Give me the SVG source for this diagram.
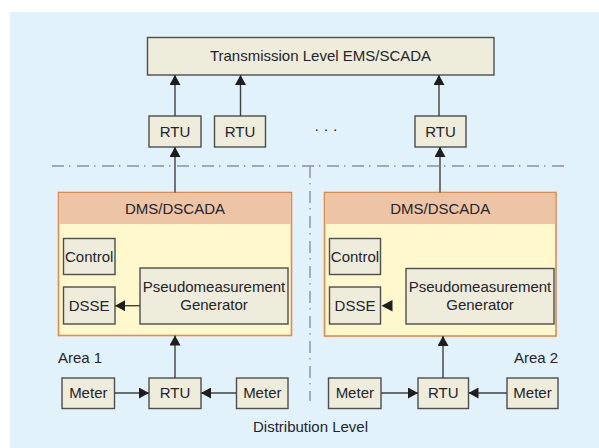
<svg xmlns="http://www.w3.org/2000/svg" width="599" height="448" viewBox="0 0 599 448">
  <defs>
    <style>
      .box { fill: #eeecda; stroke: #4e4e4e; stroke-width: 1.4; }
      .dms-body { fill: #fff8cc; stroke: #e38a4c; stroke-width: 1.6; }
      .dms-head { fill: #edc5a5; }
      .lbl { font-family: "Liberation Sans", Arial, sans-serif; font-size: 15px; fill: #24242f; }
      .mid { text-anchor: middle; }
      .conn { stroke: #404040; stroke-width: 1.4; fill: none; marker-end: url(#arrow); }
      .head { fill: #1e1e1e; stroke: none; }
      .divider { stroke: #8d949a; stroke-width: 1.4; fill: none; stroke-dasharray: 12 5 1.5 6.5; }
    </style>
    <marker id="arrow" markerUnits="userSpaceOnUse" markerWidth="11" markerHeight="11" refX="10" refY="5.5" orient="auto">
      <path d="M0,0 L10,5.5 L0,11 z" fill="#1e1e1e"/>
    </marker>
  </defs>

  <!-- background panel -->
  <rect x="10" y="12" width="589" height="436" fill="#e1f2fb"/>

  <!-- area dividers -->
  <g id="dividers">
    <path class="divider" d="M52,166 H569"/>
    <path class="divider" d="M310,166 V401"/>
  </g>

  <!-- transmission level -->
  <g id="ems">
    <rect class="box" x="147.5" y="37.5" width="346.5" height="37.5"/>
    <text class="lbl mid" x="320.5" y="61">Transmission Level EMS/SCADA</text>
  </g>
  <g id="rtu-t1">
    <rect class="box" x="149" y="116" width="52" height="31"/>
    <text class="lbl mid" x="175" y="137">RTU</text>
  </g>
  <g id="rtu-t2">
    <rect class="box" x="214.5" y="116" width="51" height="31"/>
    <text class="lbl mid" x="240" y="137">RTU</text>
  </g>
  <g id="ellipsis">
    <text class="lbl mid" x="326" y="134">· · ·</text>
  </g>
  <g id="rtu-t3">
    <rect class="box" x="415" y="116" width="51" height="31"/>
    <text class="lbl mid" x="440.5" y="137">RTU</text>
  </g>

  <!-- area 1 -->
  <g id="dms1">
    <rect class="dms-body" x="58.5" y="192.5" width="233" height="143"/>
    <rect class="dms-head" x="59.3" y="193.3" width="231.4" height="30.7"/>
    <text class="lbl mid" x="175" y="214">DMS/DSCADA</text>
  </g>
  <g id="control1">
    <rect class="box" x="63.5" y="238.5" width="51.5" height="36"/>
    <text class="lbl mid" x="89.2" y="261.5">Control</text>
  </g>
  <g id="dsse1">
    <rect class="box" x="63.5" y="287" width="51.5" height="37"/>
    <text class="lbl mid" x="89.2" y="310.5">DSSE</text>
  </g>
  <g id="pseudo1">
    <rect class="box" x="140" y="268" width="148" height="56"/>
    <text class="lbl mid" x="214" y="292">Pseudomeasurement</text>
    <text class="lbl mid" x="214" y="309.5">Generator</text>
  </g>
  <g id="area1-label">
    <text class="lbl" x="58" y="363">Area 1</text>
  </g>
  <g id="meter1">
    <rect class="box" x="62" y="378" width="52.5" height="30.5"/>
    <text class="lbl mid" x="88.3" y="398">Meter</text>
  </g>
  <g id="rtu-d1">
    <rect class="box" x="149" y="378" width="52" height="30.5"/>
    <text class="lbl mid" x="175" y="398">RTU</text>
  </g>
  <g id="meter2">
    <rect class="box" x="236.5" y="378" width="51.5" height="30.5"/>
    <text class="lbl mid" x="262.3" y="398">Meter</text>
  </g>

  <!-- area 2 -->
  <g id="dms2">
    <rect class="dms-body" x="324.5" y="192.5" width="231.5" height="143.5"/>
    <rect class="dms-head" x="325.3" y="193.3" width="229.9" height="30.7"/>
    <text class="lbl mid" x="440.2" y="214">DMS/DSCADA</text>
  </g>
  <g id="control2">
    <rect class="box" x="329.5" y="238.5" width="51" height="36"/>
    <text class="lbl mid" x="355" y="261.5">Control</text>
  </g>
  <g id="dsse2">
    <rect class="box" x="329.5" y="287" width="51" height="37"/>
    <text class="lbl mid" x="355" y="310.5">DSSE</text>
  </g>
  <g id="pseudo2">
    <rect class="box" x="406" y="268.5" width="148" height="55.5"/>
    <text class="lbl mid" x="480" y="292">Pseudomeasurement</text>
    <text class="lbl mid" x="480" y="309.5">Generator</text>
  </g>
  <g id="area2-label">
    <text class="lbl" x="514" y="363">Area 2</text>
  </g>
  <g id="meter3">
    <rect class="box" x="328.5" y="378" width="52.5" height="30.5"/>
    <text class="lbl mid" x="354.8" y="398">Meter</text>
  </g>
  <g id="rtu-d2">
    <rect class="box" x="418" y="378" width="50.5" height="30.5"/>
    <text class="lbl mid" x="443.2" y="398">RTU</text>
  </g>
  <g id="meter4">
    <rect class="box" x="507" y="378" width="51" height="30.5"/>
    <text class="lbl mid" x="532.5" y="398">Meter</text>
  </g>

  <g id="level-label">
    <text class="lbl mid" x="310.5" y="432">Distribution Level</text>
  </g>

  <!-- connectors -->
  <g id="connectors">
    <path class="conn" d="M175,116 V75"/>
    <path class="conn" d="M240.5,116 V75"/>
    <path class="conn" d="M439,116 V75"/>
    <path class="conn" d="M175,192.5 V147"/>
    <path class="conn" d="M440,192.5 V147"/>
    <path class="conn" d="M140,305.7 H115"/>
    <!-- area 2: the head alone, with no shaft -->
    <path class="head" d="M381.5,305.7 L392.5,300 L392.5,311.4 z"/>
    <path class="conn" d="M175,378 V335.5"/>
    <path class="conn" d="M443,378 V336"/>
    <path class="conn" d="M114.5,393 H149"/>
    <path class="conn" d="M236.5,393 H201"/>
    <path class="conn" d="M381,393 H418"/>
    <path class="conn" d="M507,393 H468.5"/>
  </g>
</svg>
